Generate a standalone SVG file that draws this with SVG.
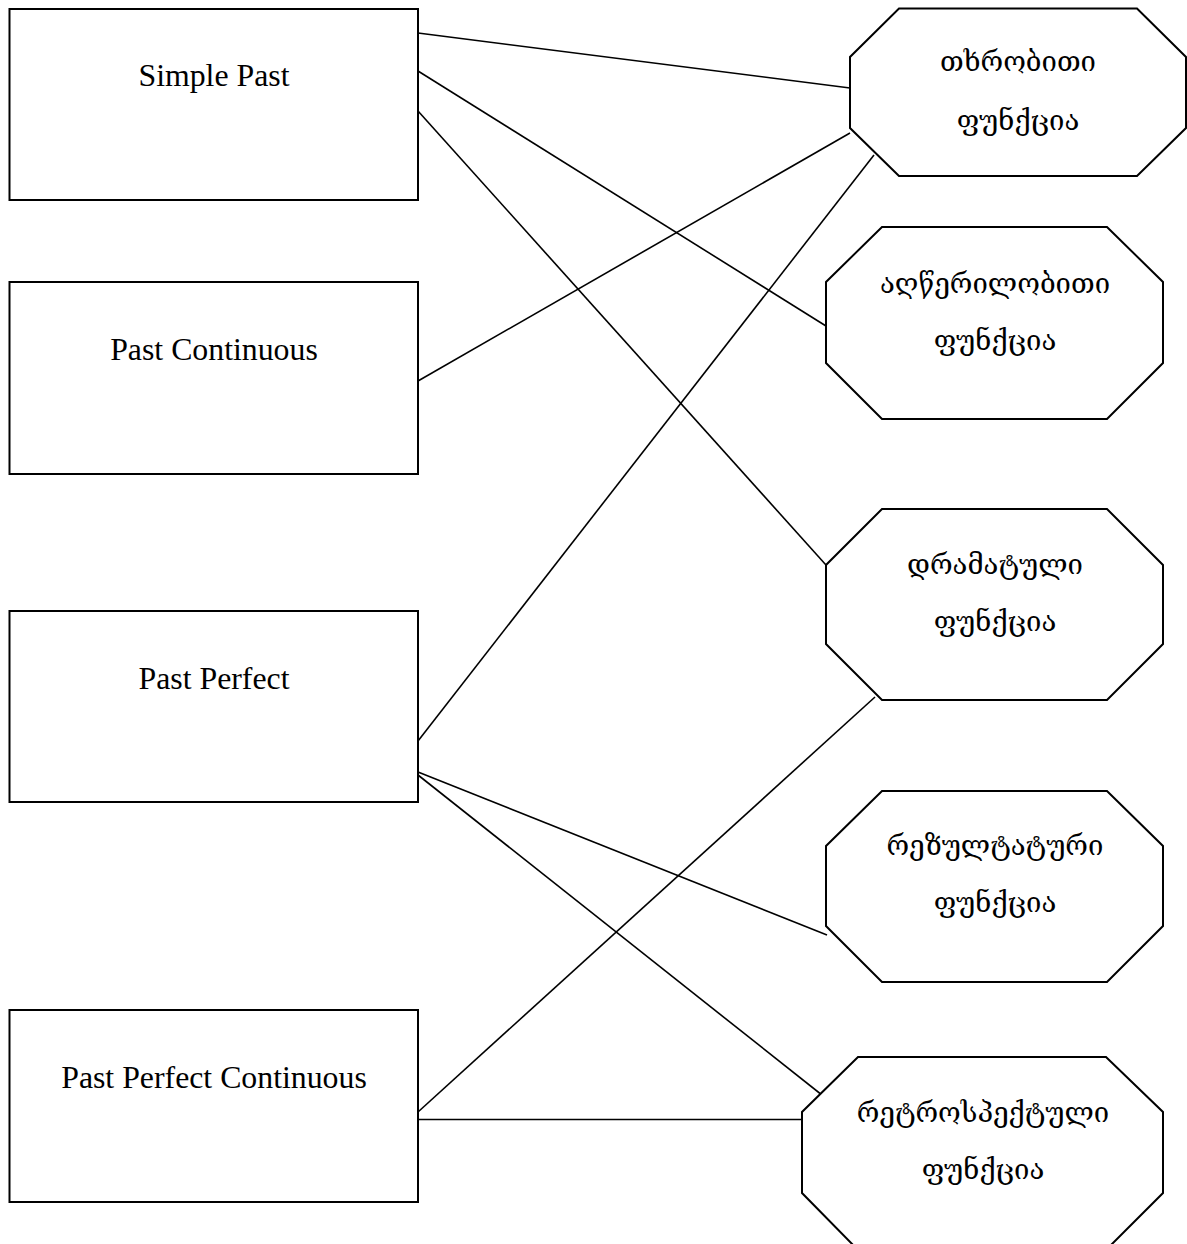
<svg xmlns="http://www.w3.org/2000/svg" width="1187" height="1244" viewBox="0 0 1187 1244">
<style>
.box{fill:#fff;stroke:#000;stroke-width:2}
.oct{fill:#fff;stroke:#000;stroke-width:2}
.lbl{font-family:"Liberation Serif","Times New Roman",serif;font-size:31.8px;fill:#000;text-anchor:middle}
.geo{font-family:"DejaVu Serif","DejaVu Sans",serif;font-size:27.5px;fill:#000;text-anchor:middle}
.conn line{stroke:#000;stroke-width:1.6}
</style>
<rect width="1187" height="1244" fill="#fff"/>
<g id="n-simple-past"><rect class="box" x="9.5" y="9" width="408.5" height="191"/><text class="lbl" x="214" y="86">Simple Past</text></g>
<g id="n-past-continuous"><rect class="box" x="9.5" y="282" width="408.5" height="192"/><text class="lbl" x="214" y="360">Past Continuous</text></g>
<g id="n-past-perfect"><rect class="box" x="9.5" y="611" width="408.5" height="191"/><text class="lbl" x="214" y="689">Past Perfect</text></g>
<g id="n-past-perfect-continuous"><rect class="box" x="9.5" y="1010" width="408.5" height="192"/><text class="lbl" x="214" y="1088">Past Perfect Continuous</text></g>
<g id="connectors" class="conn">
<line x1="418" y1="33" x2="850" y2="88"/>
<line x1="418" y1="71" x2="826" y2="326"/>
<line x1="418" y1="111" x2="826" y2="565"/>
<line x1="418" y1="381" x2="850" y2="133"/>
<line x1="418" y1="741" x2="874" y2="155"/>
<line x1="418" y1="772" x2="827" y2="935"/>
<line x1="418" y1="775" x2="827" y2="1099"/>
<line x1="418" y1="1112" x2="875" y2="697"/>
<line x1="418" y1="1119.5" x2="802" y2="1119.5"/>
</g>
<g id="n-narrative"><polygon class="oct" points="899,8.5 1137,8.5 1186,57 1186,128 1137,176 899,176 850,128 850,57"/><text class="geo" x="1018" y="71">თხრობითი</text><text class="geo" x="1018" y="130">ფუნქცია</text></g>
<g id="n-descriptive"><polygon class="oct" points="882,227 1107,227 1163,282 1163,363 1107,419 882,419 826,363 826,282"/><text class="geo" x="995" y="293">აღწერილობითი</text><text class="geo" x="995" y="350">ფუნქცია</text></g>
<g id="n-dramatic"><polygon class="oct" points="882,509 1107,509 1163,565 1163,644 1107,700 882,700 826,644 826,565"/><text class="geo" x="995" y="574">დრამატული</text><text class="geo" x="995" y="631">ფუნქცია</text></g>
<g id="n-resultative"><polygon class="oct" points="882,791 1107,791 1163,846 1163,926 1107,982 882,982 826,926 826,846"/><text class="geo" x="995" y="855">რეზულტატური</text><text class="geo" x="995" y="912">ფუნქცია</text></g>
<g id="n-retrospective"><polygon class="oct" points="858,1057 1106,1057 1163,1112 1163,1193 1106,1250 858,1250 802,1193 802,1112"/><text class="geo" x="983" y="1122">რეტროსპექტული</text><text class="geo" x="983" y="1179">ფუნქცია</text></g>
</svg>
